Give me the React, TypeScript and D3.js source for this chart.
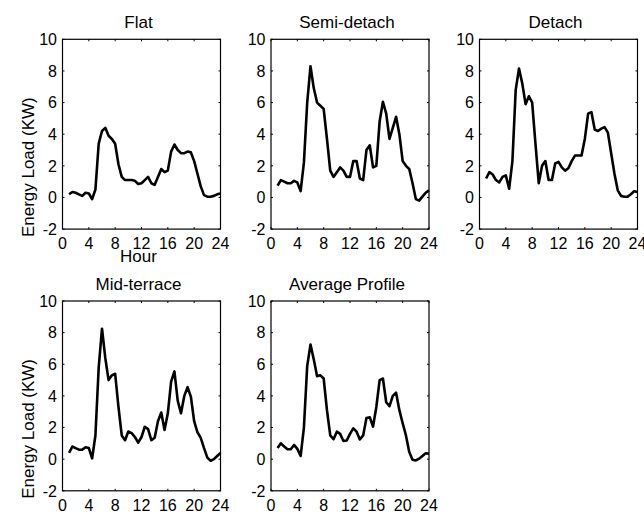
import * as d3 from "d3";

const HOURS = d3.range(1, 24.01, 0.5);

const FLAT = [
  0.2, 0.35, 0.3, 0.2, 0.1, 0.3, 0.25, -0.1, 0.5, 3.4, 4.2, 4.4, 3.9, 3.7, 3.4, 2.1,
  1.3, 1.1, 1.1, 1.1, 1.05, 0.85, 0.9, 1.1, 1.3, 0.9, 0.8, 1.3, 1.8, 1.6, 1.7, 2.9,
  3.35, 3.0, 2.8, 2.8, 2.9, 2.85, 2.3, 1.5, 0.7, 0.15, 0.05, 0.05, 0.1, 0.2, 0.25,
];
const SEMI_DETACH = [
  0.75, 1.1, 1.0, 0.9, 0.9, 1.05, 0.95, 0.4, 2.2, 6.0, 8.3, 6.9, 6.0, 5.8, 5.6, 3.7,
  1.7, 1.3, 1.6, 1.9, 1.7, 1.3, 1.3, 2.3, 2.3, 1.2, 1.1, 3.0, 3.3, 1.9, 2.0, 4.8,
  6.05, 5.3, 3.7, 4.4, 5.1, 4.0, 2.3, 2.0, 1.8, 0.9, -0.1, -0.2, 0.05, 0.3, 0.45,
];
const DETACH = [
  1.2, 1.6, 1.45, 1.1, 0.95, 1.3, 1.4, 0.55, 2.3, 6.8, 8.15, 7.2, 5.9, 6.4, 6.0, 3.4,
  0.9, 2.0, 2.3, 1.1, 1.1, 2.15, 2.25, 1.9, 1.7, 1.85, 2.3, 2.65, 2.65, 2.65, 3.7, 5.3,
  5.4, 4.3, 4.2, 4.35, 4.45, 4.1, 2.8, 1.5, 0.45, 0.1, 0.05, 0.05, 0.2, 0.4, 0.35,
];
const MID_TERRACE = [
  0.4, 0.8, 0.7, 0.6, 0.6, 0.75, 0.7, 0.05, 1.5, 5.8, 8.25, 6.4, 5.0, 5.3, 5.4, 3.3,
  1.5, 1.2, 1.75, 1.65, 1.4, 1.05, 1.4, 2.05, 1.9, 1.2, 1.35, 2.4, 2.95, 1.85, 2.9, 4.9,
  5.55, 3.7, 2.9, 4.0, 4.55, 3.95, 2.4, 1.7, 1.35, 0.7, 0.1, -0.1, 0.0, 0.2, 0.4,
];
const AVERAGE = [
  0.7, 1.0, 0.8, 0.63, 0.63, 0.9, 0.65, 0.2, 2.0, 5.9, 7.25, 6.3, 5.25, 5.3, 5.1, 3.1,
  1.5, 1.26, 1.74, 1.6, 1.15, 1.18, 1.6, 1.95, 1.74, 1.25, 1.5, 2.6, 2.65, 2.06, 3.3, 5.0,
  5.1, 3.6, 3.35, 4.0, 4.2, 3.1, 2.27, 1.5, 0.45, -0.04, -0.08, 0.03, 0.2, 0.37, 0.34,
];

const X_TICKS = [0, 4, 8, 12, 16, 20, 24];
const Y_TICKS = [-2, 0, 2, 4, 6, 8, 10];

const PANELS = [
  { title: "Flat", values: FLAT, left: 62.5, top: 39.3, ylabel: true, xlabel: true },
  { title: "Semi-detach", values: SEMI_DETACH, left: 271, top: 39.3, ylabel: false, xlabel: false },
  { title: "Detach", values: DETACH, left: 479.5, top: 39.3, ylabel: false, xlabel: false },
  { title: "Mid-terrace", values: MID_TERRACE, left: 62.5, top: 301, ylabel: true, xlabel: false },
  { title: "Average Profile", values: AVERAGE, left: 271, top: 301, ylabel: false, xlabel: false },
];

const W = 158;
const H = 189.8;
const FONT = "'Liberation Sans', Arial, sans-serif";

const x = d3.scaleLinear().domain([0, 24]).range([0, W]);
const y = d3.scaleLinear().domain([-2, 10]).range([H, 0]);

const line = d3
  .line<number>()
  .x((_, i) => x(HOURS[i]))
  .y((d) => y(d));

const Panel = ({ p }: { p: (typeof PANELS)[number] }) => (
  <g transform={`translate(${p.left},${p.top})`}>
    <text x={W / 2 - 3} y={-11.5} textAnchor="middle" fontSize={17}>
      {p.title}
    </text>
    <path d={line(p.values) || ""} fill="none" stroke="#000" strokeWidth={2.6} strokeLinejoin="round" />
    <rect x={0} y={0} width={W} height={H} fill="none" stroke="#000" strokeWidth={1.2} />
    {X_TICKS.map((t) => (
      <g key={"x" + t}>
        <line x1={x(t)} x2={x(t)} y1={H} y2={H - 2} stroke="#000" />
        <line x1={x(t)} x2={x(t)} y1={0} y2={2} stroke="#000" />
        <text x={x(t)} y={H + 20} textAnchor="middle" fontSize={16}>
          {t}
        </text>
      </g>
    ))}
    {Y_TICKS.map((t) => (
      <g key={"y" + t}>
        <line x1={0} x2={2} y1={y(t)} y2={y(t)} stroke="#000" />
        <line x1={W} x2={W - 2} y1={y(t)} y2={y(t)} stroke="#000" />
        <text x={-5.5} y={y(t)} dy="0.36em" textAnchor="end" fontSize={16}>
          {t}
        </text>
      </g>
    ))}
    {p.xlabel && (
      <text x={W / 2 - 3} y={H + 33} textAnchor="middle" fontSize={17}>
        Hour
      </text>
    )}
    {p.ylabel && (
      <text
        transform={`translate(${34 - p.left},${H / 2 + 33}) rotate(-90)`}
        textAnchor="middle"
        fontSize={17}
      >
        Energy Load (KW)
      </text>
    )}
  </g>
);

export default function App() {
  return (
    <svg
      width={644}
      height={516}
      style={{ position: "absolute", left: 0, top: 0, background: "#fff" }}
      fontFamily={FONT}
      fill="#000"
    >
      {PANELS.map((p) => (
        <Panel key={p.title} p={p} />
      ))}
    </svg>
  );
}
